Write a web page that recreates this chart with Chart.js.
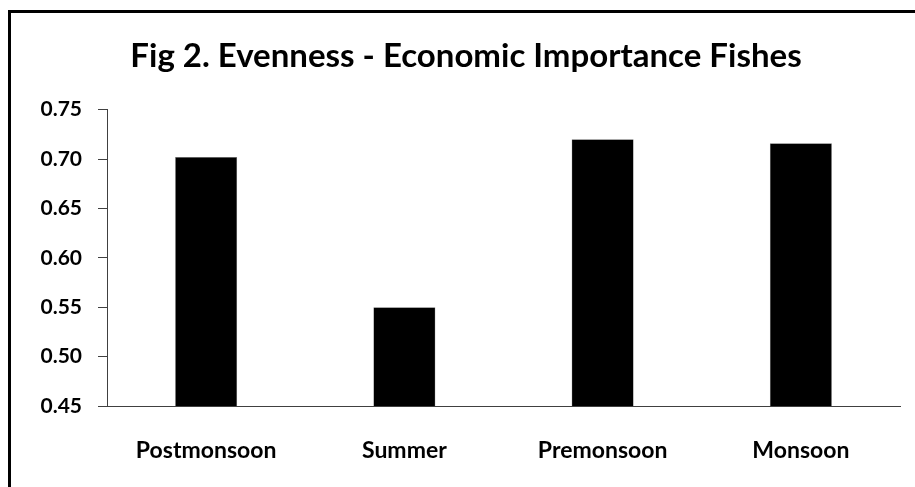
<!DOCTYPE html>
<html>
<head>
<meta charset="utf-8">
<script src="https://cdn.jsdelivr.net/npm/chart.js@4"></script>
<style>
    html, body { margin: 0; padding: 0; background: #fff; overflow: hidden; }
    #wrap { position: relative; width: 915px; height: 487px; }
    #frame { position: absolute; left: 8px; top: 10px; width: 1000px; height: 600px; border: 3px solid #000; }
    #chart { position: absolute; left: 0; top: 0; }
</style>
</head>
<body>
<div id="wrap">
    <div id="frame"></div>
    <canvas id="chart" width="915" height="487"></canvas>
</div>
<script>
// Seasons and evenness values
const seasons = ["Postmonsoon", "Summer", "Premonsoon", "Monsoon"];
const evenness = [0.702, 0.550, 0.720, 0.716];
const yTicks = [0.45, 0.50, 0.55, 0.60, 0.65, 0.70, 0.75];

const axisColor = '#404040';

var ctx = document.getElementById('chart').getContext('2d');
var chart = new Chart(ctx, {
    type: 'bar',
    data: {
        labels: seasons,
        datasets: [{
            label: 'Evenness',
            data: evenness,
            backgroundColor: '#000000',
            borderColor: '#808080',
            borderWidth: 0.5,
            categoryPercentage: 1,
            barPercentage: 0.313
        }]
    },
    options: {
        responsive: false,
        animation: false,
        // left padding shifts the title centre to match the original
        layout: { padding: { top: 0, right: 15, bottom: 0, left: 32 } },
        plugins: {
            legend: { display: false },
            tooltip: { enabled: false },
            title: {
                display: true,
                text: 'Fig 2. Evenness - Economic Importance Fishes',
                color: '#000',
                font: { family: 'Lato', size: 33, weight: 'bold', lineHeight: 1.2 },
                padding: { top: 37, bottom: 33 }
            }
        },
        scales: {
            x: {
                grid: { display: false },
                border: { display: true, color: axisColor, width: 1 },
                ticks: {
                    color: '#000',
                    font: { family: 'Lato', size: 23, weight: 'bold' },
                    padding: 23,
                    maxRotation: 0
                },
                afterFit: function(scale) { scale.height = 81; }
            },
            y: {
                min: 0.45,
                max: 0.75,
                afterBuildTicks: function(scale) {
                    scale.ticks = yTicks.map(function(v) { return { value: v }; });
                },
                grid: {
                    drawOnChartArea: false,
                    drawTicks: true,
                    tickLength: 9,
                    color: axisColor
                },
                border: { display: true, color: axisColor, width: 1 },
                ticks: {
                    color: '#000',
                    font: { family: 'Lato', size: 21, weight: 'bold' },
                    padding: 16,
                    callback: function(v) { return Number(v).toFixed(2); }
                },
                afterFit: function(scale) { scale.width = 75; }
            }
        }
    }
});
</script>
</body>
</html>
